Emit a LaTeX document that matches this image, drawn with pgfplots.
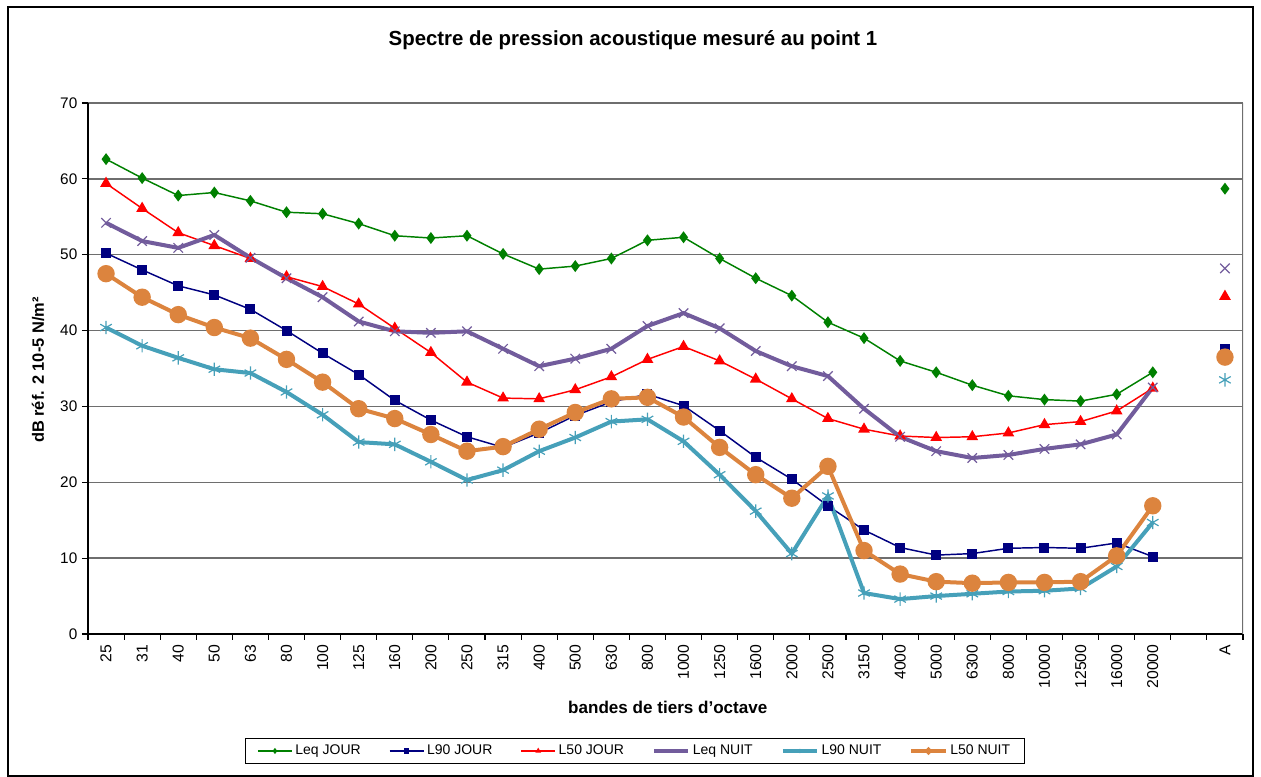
\documentclass[border=0pt]{standalone}
\usepackage{pgfplots}
\pgfplotsset{compat=1.18}
\usepackage{pgfplotstable}
\usepackage{fontspec}
\setmainfont{Liberation Sans}

\definecolor{cLeqJ}{RGB}{0,128,0}
\definecolor{cL90J}{RGB}{0,0,128}
\definecolor{cL50J}{RGB}{255,0,0}
\definecolor{cLeqN}{RGB}{114,92,156}
\definecolor{cL90N}{RGB}{70,160,185}
\definecolor{cL50N}{RGB}{220,132,62}
\definecolor{gridc}{RGB}{110,110,110}

\pgfplotstableread{
x leqj l90j l50j leqn l90n l50n
0 62.6 50.2 59.4 54.2 40.4 47.5
1 60.1 48.0 56.1 51.8 38.0 44.4
2 57.8 45.9 52.9 50.9 36.4 42.1
3 58.2 44.7 51.2 52.6 34.9 40.4
4 57.1 42.8 49.5 49.6 34.4 39.0
5 55.6 40.0 47.1 46.9 31.9 36.2
6 55.4 37.0 45.8 44.4 28.9 33.2
7 54.1 34.2 43.5 41.2 25.3 29.7
8 52.5 30.8 40.3 39.9 25.0 28.4
9 52.2 28.2 37.1 39.7 22.7 26.3
10 52.5 26.0 33.2 39.9 20.3 24.1
11 50.1 24.6 31.1 37.6 21.6 24.7
12 48.1 26.5 31.0 35.3 24.1 27.0
13 48.5 28.8 32.2 36.3 25.9 29.2
14 49.5 30.6 33.9 37.6 28.0 31.0
15 51.9 31.6 36.2 40.6 28.3 31.2
16 52.3 30.1 37.9 42.3 25.4 28.6
17 49.5 26.8 36.0 40.3 21.0 24.6
18 46.9 23.3 33.6 37.3 16.2 21.0
19 44.6 20.4 31.0 35.3 10.6 17.9
20 41.1 16.9 28.4 34.0 18.2 22.1
21 39.0 13.7 27.0 29.7 5.4 11.0
22 36.0 11.4 26.1 26.0 4.6 7.9
23 34.5 10.4 25.9 24.1 5.0 6.9
24 32.8 10.6 26.0 23.2 5.3 6.7
25 31.4 11.3 26.5 23.6 5.6 6.8
26 30.9 11.4 27.6 24.4 5.7 6.8
27 30.7 11.3 28.0 25.0 6.0 6.9
28 31.6 12.0 29.4 26.3 8.9 10.3
29 34.5 10.2 32.4 32.5 14.7 16.9
30 nan nan nan nan nan nan
31 58.7 37.6 44.5 48.2 33.5 36.5
}\data

\begin{document}
\begin{tikzpicture}
\path[use as bounding box] (-66pt,-107.25pt) rectangle (879.75pt,475.5pt);
\draw[black, line width=1.1pt] (-60pt,-106.5pt) rectangle (873.75pt,470.25pt);
\node[font=\bfseries\fontsize{15.3}{18}\selectfont] at (408.75pt,445.5pt) {Spectre de pression acoustique mesuré au point 1};
\begin{axis}[
  at={(0,0)}, anchor=south west,
  width=866.25pt, height=398.25pt, scale only axis,
  xmin=-0.5, xmax=31.5, ymin=0, ymax=70,
  axis x line=bottom, axis y line=left,
  axis line style={-, black, line width=1pt},
  ytick={0,10,...,70},
  xtick={0,...,31},
  xticklabels={25,31,40,50,63,80,100,125,160,200,250,315,400,500,630,800,1000,1250,1600,2000,2500,3150,4000,5000,6300,8000,10000,12500,16000,20000,{},A},
  minor xtick={-0.5,0.5,...,31.5},
  major x tick style={draw=none},
  minor x tick style={black, line width=0.8pt},
  ytick style={black, line width=0.8pt},
  tick align=outside,
  major tick length=4.5pt, minor tick length=4.5pt,
  ymajorgrids, grid style={gridc, line width=1pt},
  /pgf/number format/assume math mode=true,
  yticklabel style={font=\fontsize{11.5}{13}\selectfont},
  xticklabel style={font=\fontsize{11.8}{13}\selectfont, rotate=90, anchor=east},
  xlabel={bandes de tiers d'octave},
  ylabel={dB réf. 2 10-5 N/m²},
  xlabel style={font=\bfseries\fontsize{12.8}{14}\selectfont, at={(axis description cs:0.502,-0.139)}, anchor=center},
  ylabel style={font=\bfseries\fontsize{12.3}{14}\selectfont, at={(axis description cs:-0.0433,0.497)}, anchor=center},
  unbounded coords=jump,
  legend columns=6,
  legend style={at={(axis description cs:0.4736,-0.2203)}, anchor=center, draw=black, line width=0.6pt,
    font=\fontsize{10.5}{12}\selectfont, inner xsep=9pt, inner ysep=3pt,
    /tikz/every even column/.append style={column sep=19pt}},
  legend image code/.code={\draw[mark repeat=2,mark phase=2] plot coordinates {(0cm,0cm) (0.45cm,0cm) (0.9cm,0cm)};},
]
\addlegendimage{cLeqJ, line width=1.1pt, mark=diamond*, mark options={solid, fill=cLeqJ, scale=0.7}}
\addlegendentry{Leq JOUR}
\addlegendimage{cL90J, line width=1.1pt, mark=square*, mark options={solid, fill=cL90J, scale=0.7}}
\addlegendentry{L90 JOUR}
\addlegendimage{cL50J, line width=1.1pt, mark=triangle*, mark options={solid, fill=cL50J, scale=0.7}}
\addlegendentry{L50 JOUR}
\addlegendimage{cLeqN, line width=3pt, mark=x, mark options={solid, line width=0.7pt, scale=0.8}}
\addlegendentry{Leq NUIT}
\addlegendimage{cL90N, line width=3pt, mark=asterisk, mark options={solid, line width=0.7pt, scale=0.8}}
\addlegendentry{L90 NUIT}
\addlegendimage{cL50N, line width=3pt, mark=*, mark options={solid, fill=cL50N, draw=cL50N, scale=0.5}}
\addlegendentry{L50 NUIT}
\addplot[forget plot, cLeqJ, line width=1.1pt, mark=diamond*, mark size=3.6pt, mark options={solid, fill=cLeqJ}] table[x=x,y=leqj]{\data};
\addplot[forget plot, cL90J, line width=1.1pt, mark=square*, mark size=3.2pt, mark options={solid, fill=cL90J}] table[x=x,y=l90j]{\data};
\addplot[forget plot, cL50J, line width=1.1pt, mark=triangle*, mark size=4pt, mark options={solid, fill=cL50J}] table[x=x,y=l50j]{\data};
\addplot[forget plot, cLeqN, line width=3pt, mark=x, mark size=5pt, mark options={solid, line width=0.9pt}] table[x=x,y=leqn]{\data};
\addplot[forget plot, cL90N, line width=3pt, mark=asterisk, mark size=5pt, mark options={solid, line width=0.9pt}] table[x=x,y=l90n]{\data};
\addplot[forget plot, cL50N, line width=3pt, mark=*, mark size=5pt, mark options={solid, fill=cL50N, draw=cL50N}] table[x=x,y=l50n]{\data};
\draw[gridc, line width=1pt] (rel axis cs:1,0) -- (rel axis cs:1,1);
\end{axis}
\end{tikzpicture}
\end{document}
